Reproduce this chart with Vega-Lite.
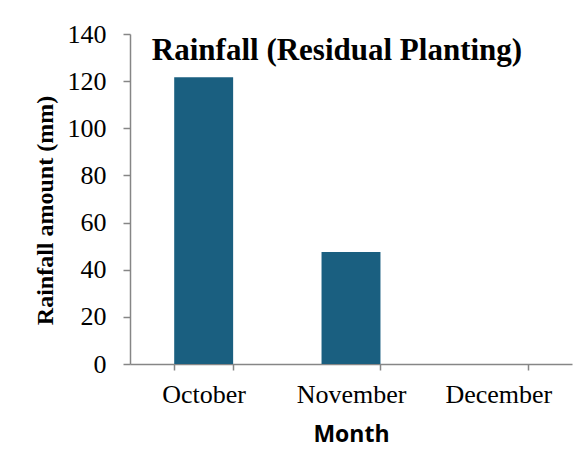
{
  "$schema": "https://vega.github.io/schema/vega-lite/v6.json",
  "width": 442,
  "height": 330,
  "autosize": "none",
  "padding": {"left": 130, "top": 34, "right": 11, "bottom": 86},
  "background": "white",
  "data": {"values": [
    {"Month": "October", "Rainfall": 121.7},
    {"Month": "November", "Rainfall": 47.5},
    {"Month": "December", "Rainfall": 0}
  ]},
  "title": {
    "text": "Rainfall (Residual Planting)",
    "font": "Liberation Serif",
    "fontSize": 31,
    "fontWeight": "bold",
    "color": "black",
    "anchor": "middle",
    "orient": "top",
    "baseline": "alphabetic",
    "offset": -28,
    "dy": 42,
    "dx": -14
  },
  "mark": {"type": "bar", "color": "#1a5f80"},
  "encoding": {
    "x": {
      "field": "Month",
      "type": "nominal",
      "sort": null,
      "scale": {"paddingInner": 0.6, "paddingOuter": 0.3},
      "axis": {
        "title": "Month",
        "titleFont": "Open Sans",
        "titleFontSize": 23,
        "titleFontWeight": "bold",
        "titleColor": "black",
        "titlePadding": 16,
        "labelAngle": 0,
        "labelFont": "Liberation Serif",
        "labelFontSize": 26,
        "labelColor": "black",
        "labelPadding": 11,
        "tickBand": "extent",
        "tickSize": 6,
        "tickColor": "#868686",
        "domainColor": "#868686",
        "domainWidth": 1.5,
        "tickWidth": 1.5
      }
    },
    "y": {
      "field": "Rainfall",
      "type": "quantitative",
      "scale": {"domain": [0, 140]},
      "axis": {
        "title": "Rainfall amount (mm)",
        "titleFont": "Liberation Serif",
        "titleFontSize": 24,
        "titleFontWeight": "bold",
        "titleColor": "black",
        "titlePadding": 10,
        "titleY": 176,
        "values": [0, 20, 40, 60, 80, 100, 120, 140],
        "labelFont": "Liberation Serif",
        "labelFontSize": 26,
        "labelColor": "black",
        "labelPadding": 17,
        "grid": false,
        "tickSize": 7,
        "tickColor": "#868686",
        "domainColor": "#868686",
        "domainWidth": 1.5,
        "tickWidth": 1.5
      }
    }
  },
  "config": {"view": {"stroke": null}}
}
